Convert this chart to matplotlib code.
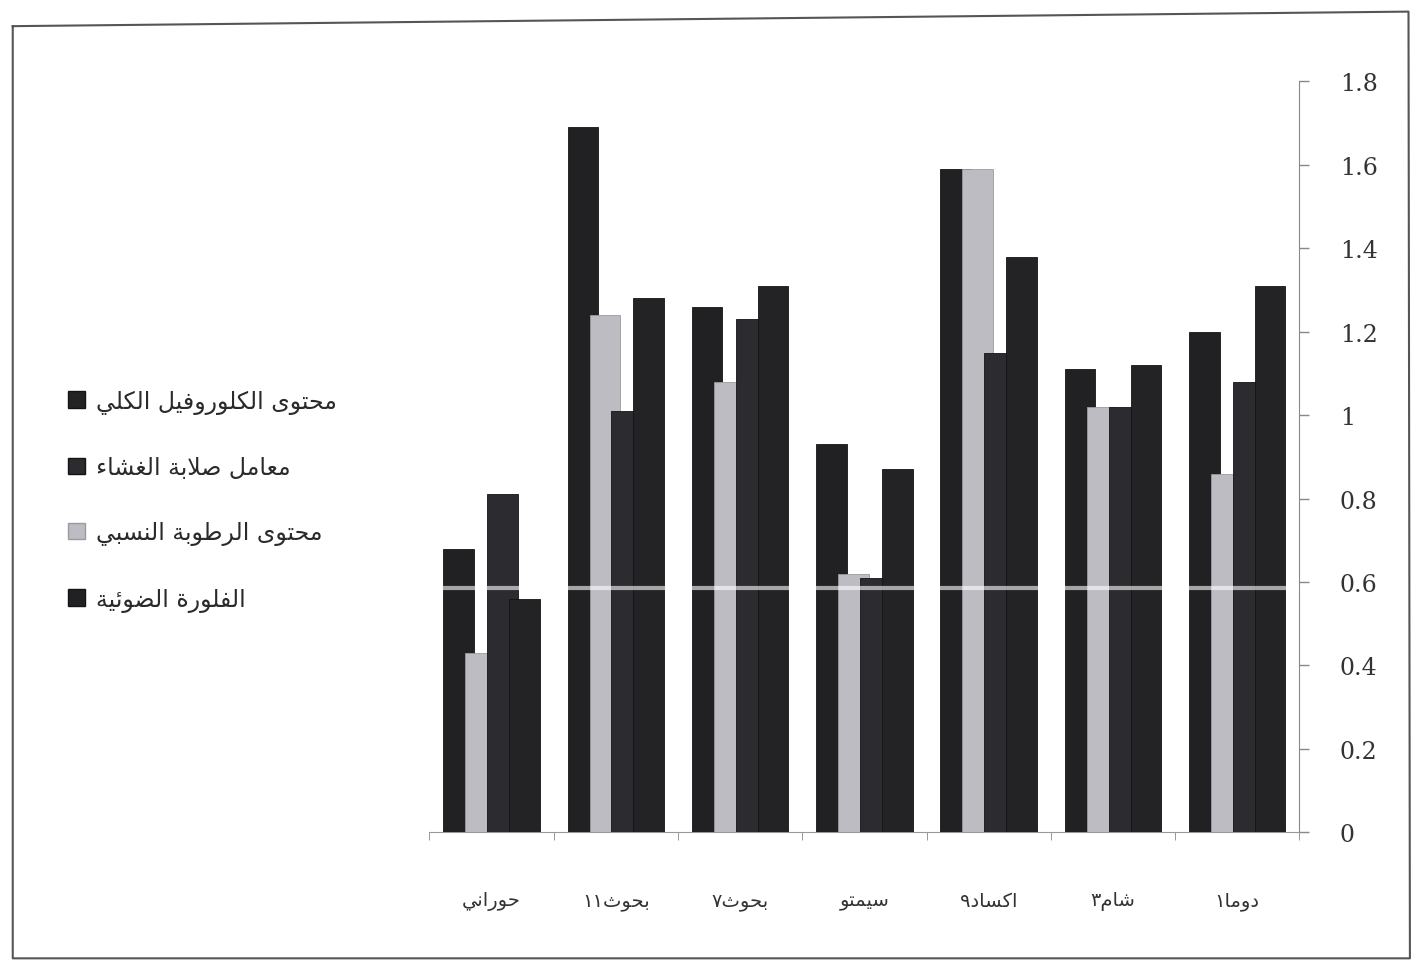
import matplotlib
matplotlib.use("Agg")
import numpy as np
import matplotlib.pyplot as plt
from matplotlib.patches import Patch
from matplotlib.lines import Line2D

# varieties, listed right to left as they appear on the axis
varieties = ['دوما١', 'شام٣', 'اكساد٩', 'سيمتو', 'بحوث٧', 'بحوث١١', 'حوراني']

series_names = ['محتوى الكلوروفيل الكلي',
                'معامل صلابة الغشاء',
                'محتوى الرطوبة النسبي',
                'الفلورة الضوئية']

chlorophyll = [1.31, 1.12, 1.38, 0.87, 1.31, 1.28, 0.56]
membrane = [1.08, 1.02, 1.15, 0.61, 1.23, 1.01, 0.81]
water_content = [0.86, 1.02, 1.59, 0.62, 1.08, 1.24, 0.43]
fluorescence = [1.20, 1.11, 1.59, 0.93, 1.26, 1.69, 0.68]

yticks = [0, 0.2, 0.4, 0.6, 0.8, 1, 1.2, 1.4, 1.6, 1.8]

# contextual forms: isolated, final, initial, medial
FORMS = {
    'ا': (0xFE8D, 0xFE8E, None, None),
    'أ': (0xFE83, 0xFE84, None, None),
    'ب': (0xFE8F, 0xFE90, 0xFE91, 0xFE92),
    'ة': (0xFE93, 0xFE94, None, None),
    'ت': (0xFE95, 0xFE96, 0xFE97, 0xFE98),
    'ث': (0xFE99, 0xFE9A, 0xFE9B, 0xFE9C),
    'ح': (0xFEA1, 0xFEA2, 0xFEA3, 0xFEA4),
    'د': (0xFEA9, 0xFEAA, None, None),
    'ر': (0xFEAD, 0xFEAE, None, None),
    'س': (0xFEB1, 0xFEB2, 0xFEB3, 0xFEB4),
    'ش': (0xFEB5, 0xFEB6, 0xFEB7, 0xFEB8),
    'ص': (0xFEB9, 0xFEBA, 0xFEBB, 0xFEBC),
    'ض': (0xFEBD, 0xFEBE, 0xFEBF, 0xFEC0),
    'ط': (0xFEC1, 0xFEC2, 0xFEC3, 0xFEC4),
    'ع': (0xFEC9, 0xFECA, 0xFECB, 0xFECC),
    'غ': (0xFECD, 0xFECE, 0xFECF, 0xFED0),
    'ف': (0xFED1, 0xFED2, 0xFED3, 0xFED4),
    'ق': (0xFED5, 0xFED6, 0xFED7, 0xFED8),
    'ك': (0xFED9, 0xFEDA, 0xFEDB, 0xFEDC),
    'ل': (0xFEDD, 0xFEDE, 0xFEDF, 0xFEE0),
    'م': (0xFEE1, 0xFEE2, 0xFEE3, 0xFEE4),
    'ن': (0xFEE5, 0xFEE6, 0xFEE7, 0xFEE8),
    'ه': (0xFEE9, 0xFEEA, 0xFEEB, 0xFEEC),
    'و': (0xFEED, 0xFEEE, None, None),
    'ى': (0xFEEF, 0xFEF0, None, None),
    'ي': (0xFEF1, 0xFEF2, 0xFEF3, 0xFEF4),
    'ئ': (0xFE89, 0xFE8A, 0xFE8B, 0xFE8C),
}


def shape(text):
    chars = list(text)
    n = len(chars)
    out = []
    i = 0
    while i < n:
        c = chars[i]
        if c not in FORMS:
            out.append(c)
            i += 1
            continue
        prev = chars[i - 1] if i > 0 else None
        joins_prev = prev in FORMS and FORMS[prev][2] is not None
        if c == 'ل' and i + 1 < n and chars[i + 1] == 'ا':
            out.append(chr(0xFEFC if joins_prev else 0xFEFB))
            i += 2
            continue
        nxt = chars[i + 1] if i + 1 < n else None
        joins_next = FORMS[c][2] is not None and nxt in FORMS
        iso, fin, ini, med = FORMS[c]
        if joins_prev and joins_next:
            g = med
        elif joins_prev:
            g = fin
        elif joins_next:
            g = ini
        else:
            g = iso
        out.append(chr(g))
        i += 1
    return ''.join(reversed(out))


plt.rcParams['font.family'] = ['DejaVu Sans']

fig = plt.figure(figsize=(14.17, 9.70), dpi=100)
ax = fig.add_axes([0.303, 0.141, 0.614, 0.774])

x = np.arange(len(varieties))
colors = ['#232326', '#2b2b30', '#bcbcc2', '#212124']
offsets = [-0.265, -0.088, 0.088, 0.265]
series = [chlorophyll, membrane, water_content, fluorescence]
for k, vals in enumerate(series):
    ax.bar(x + offsets[k], vals, width=0.245, color=colors[k],
           edgecolor='#141414' if k != 2 else '#9a9aa0', linewidth=0.6,
           zorder=10 - k)

# faint pale streak running across the columns
ax.axhline(0.585, color='white', lw=3, alpha=0.6, zorder=20)

ax.set_xlim(-0.5, len(varieties) - 0.5)
ax.invert_xaxis()
ax.set_ylim(0, 1.8)

ax.yaxis.tick_right()
ax.set_yticks(yticks)
ax.set_yticklabels([f"{t:g}" for t in yticks], family='DejaVu Serif',
                   fontsize=17, color='#333333')
ax.tick_params(axis='y', direction='out', length=7, width=1,
               color='#888888', pad=22)

ax.set_xticks(x)
ax.set_xticklabels([shape(v) for v in varieties], fontsize=14,
                   color='#333333')
ax.tick_params(axis='x', length=0, pad=42)
ax.set_xticks(np.arange(-0.5, len(varieties)), minor=True)
ax.tick_params(axis='x', which='minor', length=6, color='#888888')

for s in ['top', 'left']:
    ax.spines[s].set_visible(False)
ax.spines['right'].set_color('#888888')
ax.spines['bottom'].set_color('#999999')

handles = [Patch(facecolor=colors[k], edgecolor='#141414' if k != 2 else '#9a9aa0')
           for k in range(4)]
fig.legend(handles, [shape(s) for s in series_names], loc='upper left',
           bbox_to_anchor=(0.033, 0.62), frameon=False, fontsize=17,
           labelspacing=1.75, handlelength=0.7, handleheight=0.7,
           handletextpad=0.5, labelcolor='#2a2a2a')

# outer chart frame
frame = [(0.009, 0.972), (0.994, 0.987), (0.995, 0.011), (0.009, 0.011),
         (0.009, 0.972)]
fig.add_artist(Line2D([p[0] for p in frame], [p[1] for p in frame],
                      color='#555555', lw=1.5, transform=fig.transFigure))

fig.savefig('out.png', dpi=100)
